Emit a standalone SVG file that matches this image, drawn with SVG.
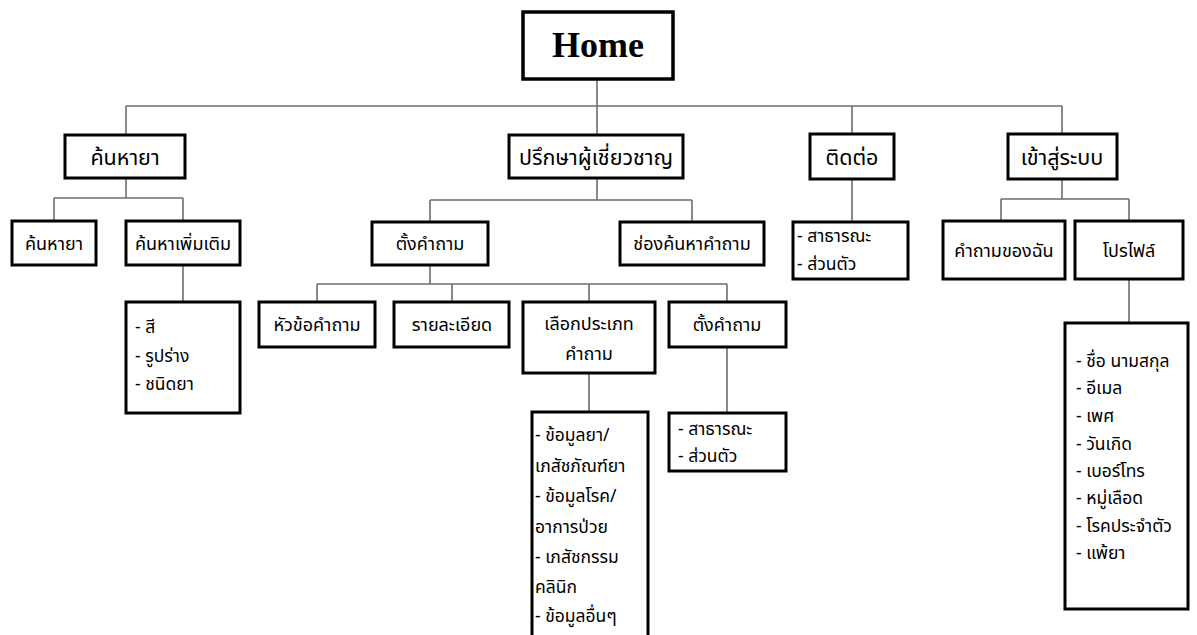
<svg xmlns="http://www.w3.org/2000/svg" width="1197" height="635" viewBox="0 0 1197 635">
<style>
.box{fill:#fff;stroke:#000;stroke-width:3}
.home{fill:#fff;stroke:#000;stroke-width:3.5}
.c{fill:none;stroke:#6e6e6e;stroke-width:1.6}
text{font-family:"Noto Sans","Noto Sans Thai","DejaVu Sans",sans-serif;fill:#000}
.l1{font-size:21.5px;text-anchor:middle;dominant-baseline:central}
.l2{font-size:18px;text-anchor:middle;dominant-baseline:central}
.li{font-size:17.5px;dominant-baseline:central}
.ht{font-family:"Liberation Serif",serif;font-weight:bold;font-size:36px;text-anchor:middle;dominant-baseline:central}
</style>
<rect width="1197" height="635" fill="#fff"/>
<g id="connectors">
<path class="c" d="M597 79V135M126 106H1062M126 106V135M852 106V134M1062 106V134"/>
<path class="c" d="M126 178V198M54 198H183M54 198V221M183 198V221M183 265V302"/>
<path class="c" d="M597 178V200M430 200H692M430 200V222M692 200V222"/>
<path class="c" d="M430 265V284M317 284H727M317 284V302M452 284V302M589 284V302M727 284V302"/>
<path class="c" d="M589 373V412M727 347V413"/>
<path class="c" d="M852 179V222"/>
<path class="c" d="M1062 179V199M1001 199H1129M1001 199V221M1129 199V221M1129 279V323"/>
</g>
<g id="home"><rect class="home" x="523" y="12" width="150" height="67"/><text class="ht" x="598" y="45">Home</text></g>
<g id="search"><rect class="box" x="65" y="135" width="120" height="43"/><text class="l1" x="125" y="156">ค้นหายา</text></g>
<g id="consult"><rect class="box" x="509" y="135" width="174" height="43"/><text class="l1" x="596" y="156">ปรึกษาผู้เชี่ยวชาญ</text></g>
<g id="contact"><rect class="box" x="810" y="134" width="84" height="45"/><text class="l1" x="852" y="156">ติดต่อ</text></g>
<g id="login"><rect class="box" x="1008" y="134" width="109" height="45"/><text class="l1" x="1062" y="156">เข้าสู่ระบบ</text></g>
<g id="search-basic"><rect class="box" x="12" y="221" width="84" height="44"/><text class="l2" x="54" y="243">ค้นหายา</text></g>
<g id="search-more"><rect class="box" x="126" y="221" width="114" height="44"/><text class="l2" x="183" y="243">ค้นหาเพิ่มเติม</text></g>
<g id="search-more-items"><rect class="box" x="126" y="302" width="114" height="111"/>
<text class="li" x="135" y="326">- สี</text><text class="li" x="135" y="355">- รูปร่าง</text><text class="li" x="135" y="383">- ชนิดยา</text></g>
<g id="ask"><rect class="box" x="372" y="222" width="116" height="43"/><text class="l2" x="430" y="243">ตั้งคำถาม</text></g>
<g id="question-search"><rect class="box" x="620" y="222" width="144" height="43"/><text class="l2" x="692" y="243">ช่องค้นหาคำถาม</text></g>
<g id="topic"><rect class="box" x="259" y="302" width="116" height="45"/><text class="l2" x="317" y="324">หัวข้อคำถาม</text></g>
<g id="detail"><rect class="box" x="394" y="302" width="115" height="45"/><text class="l2" x="452" y="324">รายละเอียด</text></g>
<g id="type"><rect class="box" x="523" y="302" width="132" height="71"/><text class="l2" x="589" y="323">เลือกประเภท</text><text class="l2" x="589" y="353">คำถาม</text></g>
<g id="ask2"><rect class="box" x="669" y="302" width="117" height="45"/><text class="l2" x="727" y="324">ตั้งคำถาม</text></g>
<g id="type-items"><rect class="box" x="532" y="412" width="116" height="240"/>
<text class="li" x="535" y="434">- ข้อมูลยา/</text><text class="li" x="535" y="465">เภสัชภัณฑ์ยา</text><text class="li" x="535" y="495">- ข้อมูลโรค/</text><text class="li" x="535" y="526">อาการป่วย</text><text class="li" x="535" y="556">- เภสัชกรรม</text><text class="li" x="535" y="586">คลินิก</text><text class="li" x="535" y="615">- ข้อมูลอื่นๆ</text></g>
<g id="ask2-items"><rect class="box" x="669" y="413" width="117" height="58"/>
<text class="li" x="678" y="428">- สาธารณะ</text><text class="li" x="678" y="455">- ส่วนตัว</text></g>
<g id="contact-items"><rect class="box" x="793" y="222" width="115" height="57"/>
<text class="li" x="797" y="235">- สาธารณะ</text><text class="li" x="797" y="263">- ส่วนตัว</text></g>
<g id="my-questions"><rect class="box" x="943" y="221" width="122" height="58"/><text class="l2" x="1004" y="250">คำถามของฉัน</text></g>
<g id="profile"><rect class="box" x="1075" y="221" width="108" height="58"/><text class="l2" x="1129" y="250">โปรไฟล์</text></g>
<g id="profile-items"><rect class="box" x="1065" y="323" width="123" height="286"/>
<text class="li" x="1076" y="360">- ชื่อ นามสกุล</text><text class="li" x="1076" y="387">- อีเมล</text><text class="li" x="1076" y="415">- เพศ</text><text class="li" x="1076" y="443">- วันเกิด</text><text class="li" x="1076" y="470">- เบอร์โทร</text><text class="li" x="1076" y="497">- หมู่เลือด</text><text class="li" x="1076" y="525">- โรคประจำตัว</text><text class="li" x="1076" y="552">- แพ้ยา</text></g>
</svg>
